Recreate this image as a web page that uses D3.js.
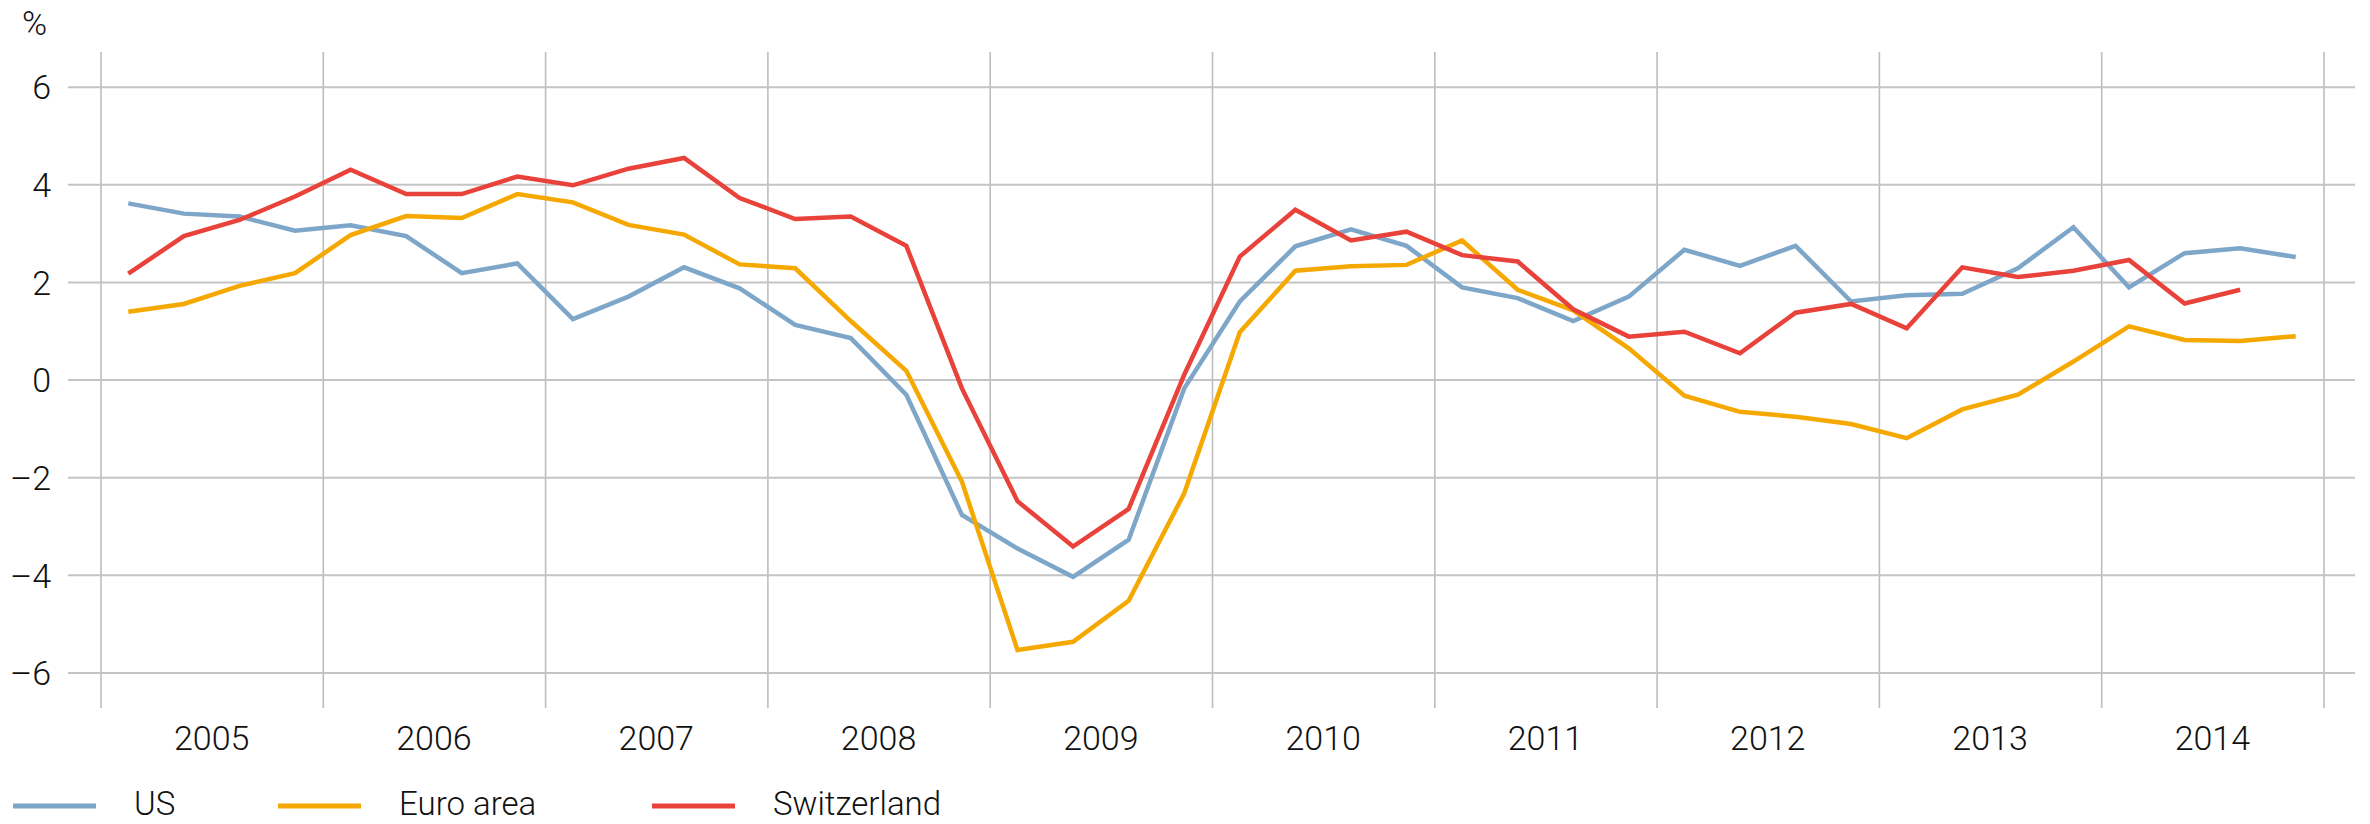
<!DOCTYPE html>
<html>
<head>
<meta charset="utf-8">
<script src="https://cdn.jsdelivr.net/npm/d3@7"></script>
<style>
  body { margin: 0; background: #fff; }
  text { font-family: Roboto, "Liberation Sans", Arial, sans-serif; font-weight: 300; fill: #111; }
</style>
</head>
<body>
<div id="chart"></div>
<script>
// quarterly data, 2005Q1 .. 2014Q4 (%)
const years = [2005, 2006, 2007, 2008, 2009, 2010, 2011, 2012, 2013, 2014];
const yTicks = [-6, -4, -2, 0, 2, 4, 6];
const seriesNames = ["US", "Euro area", "Switzerland"];
const seriesColors = ["#7ea6c9", "#f5a800", "#e8423a"];

const us = [3.61, 3.40, 3.34, 3.05, 3.16, 2.94, 2.18, 2.38,
            1.24, 1.70, 2.30, 1.87, 1.12, 0.85, -0.31, -2.77,
            -3.46, -4.04, -3.28, -0.18, 1.60, 2.73, 3.08, 2.74,
            1.89, 1.67, 1.20, 1.70, 2.66, 2.33, 2.74, 1.60,
            1.73, 1.76, 2.28, 3.12, 1.89, 2.59, 2.69, 2.51];
const euro = [1.39, 1.55, 1.92, 2.18, 2.96, 3.35, 3.31, 3.80,
              3.63, 3.17, 2.97, 2.36, 2.28, 1.20, 0.18, -2.09,
              -5.54, -5.37, -4.53, -2.33, 0.97, 2.23, 2.32, 2.35,
              2.85, 1.84, 1.42, 0.64, -0.33, -0.66, -0.76, -0.91,
              -1.20, -0.61, -0.31, 0.37, 1.09, 0.81, 0.79, 0.89];
const swiss = [2.17, 2.94, 3.27, 3.75, 4.30, 3.80, 3.80, 4.16,
               3.98, 4.32, 4.54, 3.72, 3.29, 3.34, 2.74, -0.18,
               -2.49, -3.42, -2.65, 0.10, 2.52, 3.48, 2.85, 3.03,
               2.55, 2.42, 1.44, 0.88, 0.98, 0.54, 1.37, 1.55,
               1.05, 2.30, 2.10, 2.23, 2.45, 1.56, 1.84];

const width = 2370, height = 824;
const svg = d3.select("#chart").append("svg")
    .attr("width", width)
    .attr("height", height);

const x = d3.scaleLinear().domain([2005, 2015]).range([100.5, 2323.5]);
const y = d3.scaleLinear().domain([-6, 6]).range([672.5, 86.7]);

const gridLeft = 68, gridRight = 2355, gridTop = 52, gridBottom = 708;

// vertical year separators
svg.append("g")
    .attr("transform", `translate(0,${gridBottom})`)
    .call(d3.axisBottom(x).tickValues(d3.range(2005, 2016)).tickSize(-(gridBottom - gridTop)).tickFormat(""))
    .call(g => g.select(".domain").remove())
    .call(g => g.selectAll(".tick line").attr("stroke", "#bdbdbd").attr("stroke-width", 1.6));

// horizontal gridlines + y labels
svg.append("g")
    .attr("transform", `translate(${gridLeft},0)`)
    .call(d3.axisLeft(y).tickValues(yTicks).tickSize(-(gridRight - gridLeft)).tickPadding(17)
        .tickFormat(d => d < 0 ? "\u2013" + Math.abs(d) : d))
    .call(g => g.select(".domain").remove())
    .call(g => g.selectAll(".tick line").attr("stroke", "#c4c4c4").attr("stroke-width", 2))
    .call(g => g.selectAll(".tick text")
        .attr("font-size", 34)
        .attr("fill", "#111")
        .attr("dy", "0.36em")
        .style("font-family", "Roboto, 'Liberation Sans', Arial, sans-serif")
        .style("font-weight", 300));

svg.append("text")
    .attr("x", 22)
    .attr("y", 35)
    .attr("font-size", 34)
    .text("%");

// year labels centred in each year
svg.append("g").selectAll("text")
    .data(years)
    .enter()
    .append("text")
    .attr("x", d => x(d + 0.5))
    .attr("y", 750)
    .attr("text-anchor", "middle")
    .attr("font-size", 34)
    .text(d => d);

// lines
const allSeries = [us, euro, swiss];
const line = d3.line()
    .x((d, i) => x(2005 + (i + 0.5) / 4))
    .y(d => y(d));

svg.append("g").selectAll("path")
    .data(allSeries)
    .enter()
    .append("path")
    .attr("d", d => line(d))
    .attr("fill", "none")
    .attr("stroke", (d, i) => seriesColors[i])
    .attr("stroke-width", 4.5)
    .attr("stroke-linejoin", "miter");

// legend
const legendX = [13, 278, 652];
const legend = svg.append("g").selectAll("g")
    .data(seriesNames)
    .enter()
    .append("g")
    .attr("transform", (d, i) => `translate(${legendX[i]},806)`);

legend.append("line")
    .attr("x1", 0).attr("x2", 83)
    .attr("y1", 0).attr("y2", 0)
    .attr("stroke", (d, i) => seriesColors[i])
    .attr("stroke-width", 5);

legend.append("text")
    .attr("x", 121)
    .attr("y", 9)
    .attr("font-size", 33)
    .text(d => d);
</script>
</body>
</html>
